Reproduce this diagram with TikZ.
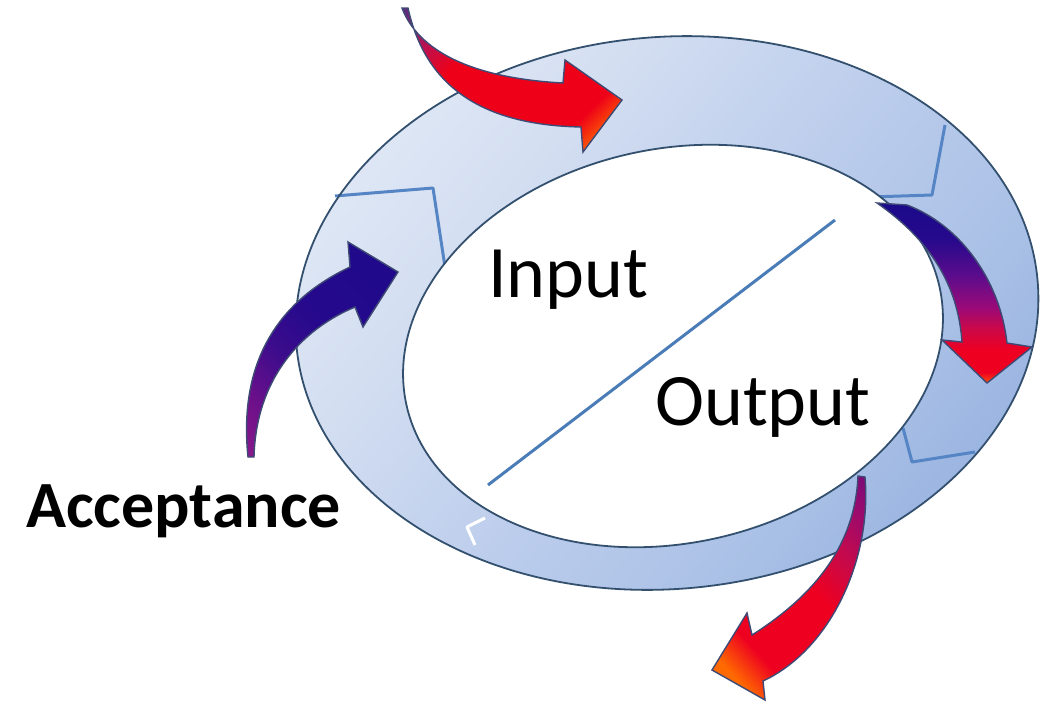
\documentclass[tikz,border=0pt]{standalone}
\usepackage{tikz}
\usepackage{fontspec}
\setmainfont{Carlito}
\definecolor{ringLine}{HTML}{34506F}
\definecolor{chev}{HTML}{5585C5}
\definecolor{diag}{HTML}{4A7DB8}
\definecolor{arrLine}{HTML}{3E4A75}
\definecolor{rg0}{HTML}{F0F4FB}
\definecolor{rg1}{HTML}{E6EDF8}
\definecolor{rg2}{HTML}{D3DEF1}
\definecolor{rg3}{HTML}{BCCDEC}
\definecolor{rg4}{HTML}{A9C0E6}
\definecolor{rg5}{HTML}{8EABDD}
\definecolor{tP}{HTML}{5A2D7E}
\definecolor{tC}{HTML}{C0104C}
\definecolor{tR}{HTML}{EE0018}
\definecolor{tO}{HTML}{FF7000}
\definecolor{nv}{HTML}{1A0A8A}
\definecolor{nvb}{HTML}{26098C}
\definecolor{ppa}{HTML}{5A0C8C}
\definecolor{ppb}{HTML}{9A0A78}
\definecolor{cr}{HTML}{CC0848}
\definecolor{rd}{HTML}{EE0020}
\definecolor{orng}{HTML}{FF6A00}
\definecolor{bp}{HTML}{7A0A7A}
\definecolor{bm}{HTML}{9C0A6C}
\definecolor{bc}{HTML}{C40A4C}
\definecolor{lm}{HTML}{8C1A8A}
\definecolor{lp}{HTML}{6C108A}
\definecolor{li}{HTML}{3C0C8C}
\pgfdeclarehorizontalshading{ringsh}{100bp}{color(0bp)=(rg0); color(18bp)=(rg1); color(35bp)=(rg2); color(51bp)=(rg3); color(66bp)=(rg4); color(82bp)=(rg5); color(100bp)=(rg5)}
\pgfdeclarehorizontalshading{topsh}{100bp}{color(0bp)=(tP); color(15bp)=(tP); color(27bp)=(tC); color(36bp)=(tR); color(71bp)=(tR); color(80bp)=(tO); color(100bp)=(tO)}
\pgfdeclarehorizontalshading{rightsh}{100bp}{color(0bp)=(nv); color(25bp)=(nv); color(35bp)=(nvb); color(45bp)=(ppa); color(54bp)=(ppb); color(60bp)=(cr); color(66bp)=(rd); color(72bp)=(rd); color(76bp)=(orng); color(100bp)=(orng)}
\pgfdeclarehorizontalshading{bottomsh}{100bp}{color(0bp)=(bp); color(16bp)=(bp); color(24bp)=(bm); color(34bp)=(bc); color(46bp)=(rd); color(68bp)=(rd); color(77bp)=(orng); color(100bp)=(orng)}
\pgfdeclarehorizontalshading{leftsh}{100bp}{color(0bp)=(lm); color(15bp)=(lm); color(28bp)=(lp); color(42bp)=(li); color(55bp)=(nvb); color(100bp)=(nv)}
\tikzset{
  ringedge/.style={draw=ringLine, line width=1.8},
  chevron/.style={draw=chev, line width=3, line join=round},
  arrowbody/.style={draw=arrLine, line width=1.4, line join=miter},
  label/.style={inner sep=0pt, anchor=base west, text=black}
}
\begin{document}
\begin{tikzpicture}[x=1pt,y=-1pt]
\useasboundingbox (0,0) rectangle (1042,704);
\fill[white] (0,0) rectangle (1042,704);
% ring
\shade[shading=ringsh, shading angle=-39, rotate around={5:(667,313)}] (667,313) ellipse (372 and 276);
% segment chevrons
\draw[chevron] (335,196) -- (433,188) -- (445,267);
\draw[chevron] (945,125) -- (932,195) -- (870,197);
\draw[chevron] (903,428) -- (912,462) -- (975,452);
\draw[chevron, draw=white] (485,518) -- (467,527) -- (475,545);
% inner ellipse
\path[ringedge, fill=white, rotate around={12.5:(673,346)}] (673,346) ellipse (273 and 197);
\path[ringedge, rotate around={5:(667,313)}] (667,313) ellipse (372 and 276);
% diagonal
\coordinate (d1) at (488,485);
\coordinate (d2) at (835,220);
\draw[diag, line width=3] (d1) -- (d2);
% texts
\node[label, font=\fontsize{74}{80}\selectfont] (input) at (488,297) {Input};
\node[label, font=\fontsize{74}{80}\selectfont] (output) at (655,425) {Output};
\node[label, font=\bfseries\fontsize{66}{72}\selectfont] (acc) at (26,527) {Acceptance};
% arrows
\shadedraw[arrowbody, shading=topsh, shading angle=-45]
  (402,8) .. controls (418,50) and (470,78) .. (563,83) -- (565,60) -- (622,100) -- (583,152) -- (581,127)
  .. controls (480,125) and (425,85) .. (408,8) -- cycle;
\shadedraw[arrowbody, shading=rightsh, shading angle=-90]
  (877,203) -- (907,205) .. controls (960,225) and (1000,280) .. (1007,343) -- (1032,347) -- (987,383) -- (942,340) -- (962,342)
  .. controls (958,285) and (930,240) .. (877,203) -- cycle;
\shadedraw[arrowbody, shading=bottomsh, shading angle=-138]
  (858,476) -- (865,477) .. controls (872,560) and (830,650) .. (763,681) -- (765,700) -- (712,670) -- (747,613) -- (752,635)
  .. controls (815,595) and (855,545) .. (858,476) -- cycle;
\shadedraw[arrowbody, shading=leftsh, shading angle=45]
  (248,457) .. controls (238,360) and (280,300) .. (350,267) -- (348,242) -- (398,272) -- (363,327) -- (355,307)
  .. controls (300,330) and (256,380) .. (254,457) -- cycle;
\end{tikzpicture}
\end{document}
